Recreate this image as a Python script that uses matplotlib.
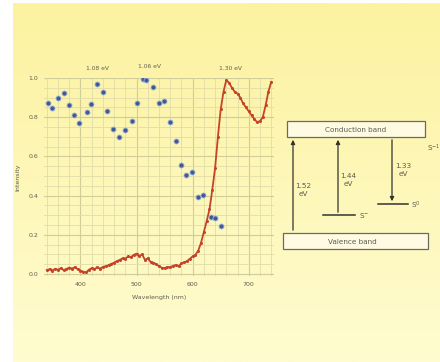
import numpy as np
import matplotlib
matplotlib.use("Agg")
import matplotlib.pyplot as plt
from matplotlib.patches import Rectangle

# ---------------- data ----------------
blue_wl = [342, 349, 360, 370, 379, 389, 398, 411, 419, 430, 440, 447, 458, 468,
           479, 491, 500, 511, 516, 530, 540, 549, 560, 570, 579, 589, 598, 609,
           619, 632, 640, 651]
blue_int = [0.872, 0.847, 0.898, 0.923, 0.862, 0.811, 0.770, 0.827, 0.867, 0.969,
            0.929, 0.832, 0.740, 0.699, 0.735, 0.781, 0.872, 0.995, 0.990, 0.954,
            0.872, 0.883, 0.776, 0.679, 0.556, 0.505, 0.520, 0.393, 0.403, 0.291,
            0.286, 0.245]

red_wl = list(range(340, 745, 5))
red_int = [0.020, 0.025, 0.018, 0.027, 0.022, 0.030, 0.020, 0.026, 0.033, 0.028,
           0.035, 0.025, 0.018, 0.012, 0.008, 0.022, 0.030, 0.026, 0.034, 0.028,
           0.036, 0.040, 0.045, 0.052, 0.058, 0.066, 0.072, 0.080, 0.078, 0.090,
           0.086, 0.098, 0.104, 0.092, 0.100, 0.072, 0.080, 0.062, 0.058, 0.050,
           0.040, 0.032, 0.030, 0.036, 0.034, 0.042, 0.046, 0.040, 0.054, 0.060,
           0.066, 0.078, 0.090, 0.098, 0.120, 0.160, 0.215, 0.270, 0.330, 0.430,
           0.540, 0.700, 0.840, 0.930, 0.990, 0.975, 0.950, 0.930, 0.920, 0.900,
           0.870, 0.850, 0.830, 0.810, 0.790, 0.775, 0.780, 0.800, 0.860, 0.930,
           0.980]

xticks = [400, 500, 600, 700]
yticks = [0.0, 0.2, 0.4, 0.6, 0.8, 1.0]
ev_labels = ["1.08 eV", "1.06 eV", "1.30 eV"]
ev_pos = [430, 523, 668]
ev_y = [1.035, 1.045, 1.035]

W, H = 440, 362
fig = plt.figure(figsize=(W / 100, H / 100), dpi=100)
fig.patch.set_facecolor("white")

# background gradient
bg = fig.add_axes([13 / W, 0, 1 - 13 / W, 1 - 3 / H])
grad = np.linspace(0, 1, 256)[:, None]
top = np.array([252, 242, 160]) / 255
bot = np.array([255, 252, 208]) / 255
img = top[None, None, :] * (1 - grad[:, :, None]) + bot[None, None, :] * grad[:, :, None]
bg.imshow(img, aspect="auto", extent=[0, 1, 0, 1])
bg.axis("off")

# main plot
ax = fig.add_axes([44 / W, 1 - 276 / H, (274 - 44) / W, (276 - 78) / H])
ax.patch.set_alpha(0)
ax.set_xlim(335, 745)
ax.set_ylim(-0.01, 1.0)
ax.set_xticks(xticks)
ax.set_yticks(yticks)
ax.set_yticklabels([f"{v:.1f}" for v in yticks])
ax.set_xticks(np.arange(340, 745, 20), minor=True)
ax.set_yticks(np.arange(0, 1.001, 0.05), minor=True)
ax.grid(which="major", color="#d0cd98", lw=0.8)
ax.grid(which="minor", color="#e0dda8", lw=0.6)
for s in ax.spines.values():
    s.set_visible(False)
ax.tick_params(which="both", length=0, labelsize=4.5, labelcolor="#5f5f50", pad=4)

ax.plot(red_wl, red_int, color="#c4442a", lw=1.3, marker="o", ms=2.2, mew=0, zorder=3)
ax.plot(blue_wl, blue_int, ls="none", marker="o", ms=3.6, color="#3f5a98",
        mec="#a3b3d6", mew=0.6, zorder=4)

ax.set_xlabel("Wavelength (nm)", fontsize=4.5, color="#5f5f50", labelpad=6)
ax.set_ylabel("Intensity", fontsize=4.5, color="#5f5f50", labelpad=6)
for lbl, xp, yp in zip(ev_labels, ev_pos, ev_y):
    ax.text(xp, yp, lbl, fontsize=4.3, color="#5f5f50", ha="center", va="bottom",
            clip_on=False)

# energy diagram (pixel coords)
d = fig.add_axes([0, 0, 1, 1])
d.set_xlim(0, W)
d.set_ylim(H, 0)
d.axis("off")
d.patch.set_alpha(0)
ec = "#6a6a60"
tc = "#5a5a50"
d.add_patch(Rectangle((287, 121), 138, 16, fc="#fffbe2", ec=ec, lw=0.9))
d.text(356, 129.5, "Conduction band", fontsize=5.2, color=tc, ha="center", va="center")
d.add_patch(Rectangle((283, 233), 145, 16, fc="#fffbe2", ec=ec, lw=0.9))
d.text(352, 241.5, "Valence band", fontsize=5.2, color=tc, ha="center", va="center")

arrow_kw = dict(arrowstyle="-|>", color="#333330", lw=0.9, mutation_scale=6)
d.annotate("", xy=(293, 137), xytext=(293, 233), arrowprops=arrow_kw)
d.annotate("", xy=(338, 137), xytext=(338, 215), arrowprops=arrow_kw)
d.annotate("", xy=(392, 204), xytext=(392, 137), arrowprops=arrow_kw)
d.plot([323, 355], [215, 215], color="#333330", lw=1.1)
d.plot([378, 408], [204, 204], color="#333330", lw=1.1)

d.text(303, 190, "1.52\neV", fontsize=5.2, color=tc, ha="center", va="center", linespacing=1.2)
d.text(348, 180, "1.44\neV", fontsize=5.2, color=tc, ha="center", va="center", linespacing=1.2)
d.text(403, 170, "1.33\neV", fontsize=5.2, color=tc, ha="center", va="center", linespacing=1.2)
d.text(359, 216, "S$^{-}$", fontsize=5.2, color=tc, ha="left", va="center")
d.text(411, 205, "S$^{0}$", fontsize=5.2, color=tc, ha="left", va="center")
d.text(427, 148, "S$^{-1}$", fontsize=5.2, color=tc, ha="left", va="center")

fig.savefig("out.png", dpi=100)
